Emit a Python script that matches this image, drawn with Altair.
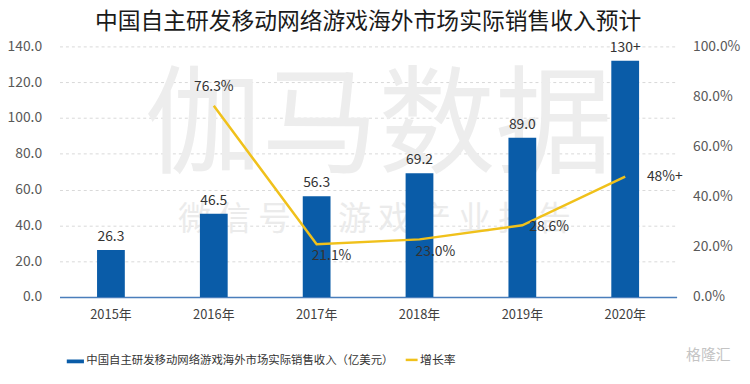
import altair as alt
import pandas as pd

years = ["2015年", "2016年", "2017年", "2018年", "2019年", "2020年"]
revenue = [26.3, 46.5, 56.3, 69.2, 89.0, 132.0]
revenue_labels = ["26.3", "46.5", "56.3", "69.2", "89.0", "130+"]
growth = [None, 0.763, 0.211, 0.230, 0.286, 0.48]
growth_labels = ["", "76.3%", "21.1%", "23.0%", "28.6%", "48%+"]
left_ticks = [0, 20, 40, 60, 80, 100, 120, 140]
right_ticks = [0, 0.2, 0.4, 0.6, 0.8, 1.0]

bar_name = "中国自主研发移动网络游戏海外市场实际销售收入（亿美元）"
line_name = "增长率"
title_text = "中国自主研发移动网络游戏海外市场实际销售收入预计"

FONT = "Noto Sans CJK SC"
BLUE = "#0a5ca8"
GOLD = "#f0c11b"

df = pd.DataFrame({
    "year": years,
    "revenue": revenue,
    "rlabel": revenue_labels,
    "growth": growth,
    "glabel": growth_labels,
    "bar_series": bar_name,
    "line_series": line_name,
})

xenc = alt.X("year:N", sort=years,
             scale=alt.Scale(paddingInner=0.73, paddingOuter=0.365),
             axis=alt.Axis(title=None, labelAngle=0, labelFontSize=13, labelColor="#404040",
                           labelFont=FONT, ticks=False, domain=True, domainColor="#4a7ebb",
                           domainWidth=1.5, labelPadding=12, grid=False))

left_axis = alt.Axis(title=None, values=left_ticks, format=".1f",
                     labelFontSize=14, labelColor="#595959", labelFont=FONT,
                     labelOverlap=False, labelBound=False, tickCount=8,
                     ticks=False, domain=False, grid=True, gridColor="#d9d9d9",
                     gridDash=[3, 3], labelPadding=18)
yscale_left = alt.Scale(domain=[0, 140], nice=False)

right_axis = alt.Axis(title=None, orient="right", values=right_ticks,
                      format=".1%", labelFontSize=14, labelColor="#595959", labelFont=FONT,
                      labelOverlap=False, labelBound=False,
                      ticks=False, domain=False, grid=False, labelPadding=16)
yscale_right = alt.Scale(domain=[0, 1], nice=False)

base = alt.Chart(df)
one = "datum.year == '2015年'"

wm1 = base.mark_text(text="伽马数据", fontSize=118, font=FONT, color="#ededed",
                     align="center", baseline="middle").encode(
    x=alt.value(322), y=alt.value(84)).transform_filter(one)
wm2 = base.mark_text(text="微 信 号 ： 游 戏 产 业 报 告", fontSize=33, font=FONT, color="#ebebeb",
                     align="center", baseline="middle").encode(
    x=alt.value(318), y=alt.value(175)).transform_filter(one)
logo = base.mark_text(text="格隆汇", fontSize=15, font=FONT, color="#c4c4c4",
                      align="center", baseline="middle").encode(
    x=alt.value(655), y=alt.value(312)).transform_filter(one)

bars = base.mark_bar(color=BLUE).encode(
    x=xenc,
    y=alt.Y("revenue:Q", scale=yscale_left, axis=left_axis),
    color=alt.Color("bar_series:N",
                    scale=alt.Scale(domain=[bar_name], range=[BLUE]),
                    legend=alt.Legend(title=None, orient="none", legendX=7, legendY=309,
                                      symbolType="M-1,-0.22H1V0.22H-1Z", symbolSize=300,
                                      symbolStrokeWidth=0, labelFontSize=11.5, labelFont=FONT,
                                      labelColor="#333333", labelOffset=2, padding=0,
                                      labelLimit=1000)))

bar_text = base.mark_text(fontSize=14, font=FONT, color="#333333", dy=-13, baseline="middle").encode(
    x=alt.X("year:N", sort=years),
    y=alt.Y("revenue:Q", scale=yscale_left, axis=left_axis),
    text="rlabel:N")

left = alt.layer(wm1, wm2, logo, bars, bar_text)

line = base.mark_line(strokeWidth=2.5).encode(
    x=alt.X("year:N", sort=years),
    y=alt.Y("growth:Q", scale=yscale_right, axis=right_axis),
    color=alt.Color("line_series:N",
                    scale=alt.Scale(domain=[line_name], range=[GOLD]),
                    legend=alt.Legend(title=None, orient="none", legendX=348, legendY=309,
                                      symbolType="stroke", symbolSize=144, symbolStrokeWidth=2.5,
                                      labelFontSize=12, labelFont=FONT, labelColor="#333333",
                                      labelOffset=1, padding=0, labelLimit=1000))
).transform_filter("datum.growth != null")


def glabel(year, dx, dy, align):
    return base.mark_text(fontSize=14, font=FONT, color="#333333", dx=dx, dy=dy,
                          align=align, baseline="middle").encode(
        x=alt.X("year:N", sort=years),
        y=alt.Y("growth:Q", scale=yscale_right, axis=right_axis),
        text="glabel:N"
    ).transform_filter(f"datum.year == '{year}'")


gl = alt.layer(
    glabel("2016年", 0, -19, "center"),
    glabel("2017年", 15, 12, "center"),
    glabel("2018年", 16, 13, "center"),
    glabel("2019年", 27, 2, "center"),
    glabel("2020年", 40, 0, "center"),
)

right = alt.layer(line, gl)

chart = alt.layer(left, right).resolve_scale(y="independent", color="independent").properties(
    width=623, height=253,
    autosize=alt.AutoSizeParams(type="none"),
    padding={"left": 52, "top": 37, "right": 66, "bottom": 80},
    title=alt.TitleParams(title_text, fontSize=23, font=FONT, fontWeight="normal",
                          color="#1a1a1a", anchor="middle", frame="group", offset=6),
).configure_view(stroke=None)

chart.save("out.html", embed_options={"renderer": "svg", "actions": False})
